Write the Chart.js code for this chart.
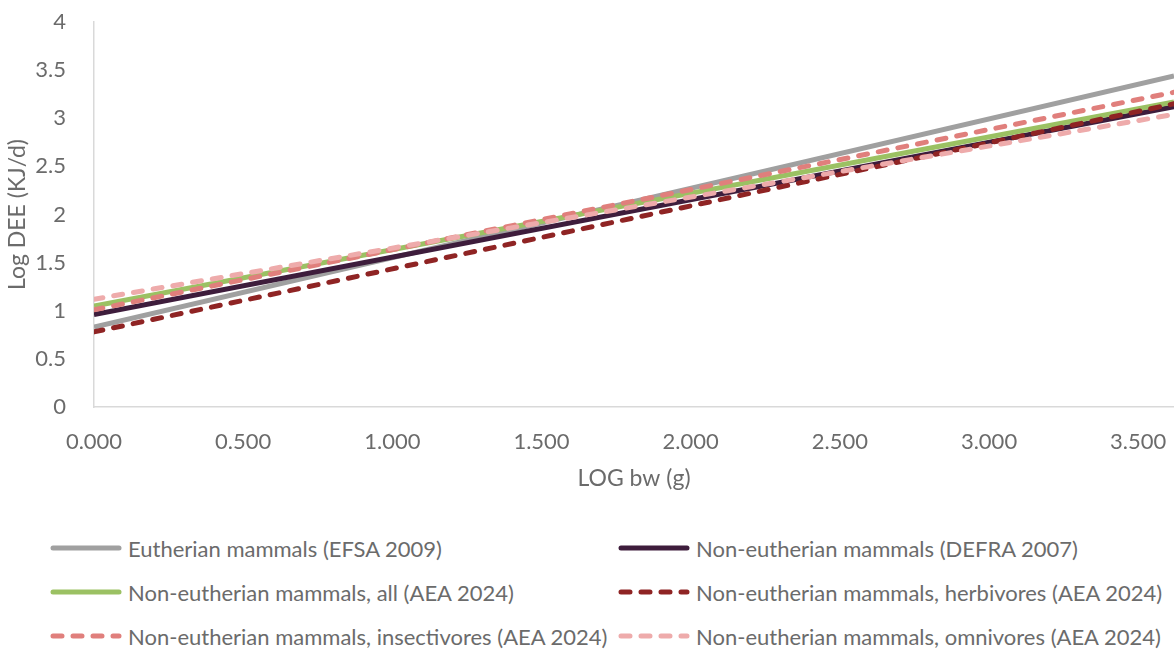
<!DOCTYPE html>
<html>
<head>
<meta charset="utf-8">
<script src="https://cdn.jsdelivr.net/npm/chart.js@4.4.1/dist/chart.umd.min.js"></script>
<style>
  html, body { margin: 0; padding: 0; background: #fff; }
  #wrap { position: relative; width: 1174px; height: 652px; overflow: hidden; font-family: Lato, "Noto Sans", sans-serif; color: #6b6b6b; }
  #chart { position: absolute; left: 0; top: 0; }
  .item { position: absolute; height: 26px; display: flex; align-items: center; font-size: 22px; white-space: nowrap; }
  .item svg { margin-right: 6px; }
</style>
</head>
<body>
<div id="wrap">
  <canvas id="chart" width="1174" height="500"></canvas>
  <div id="legend"></div>
</div>
<script>
// endpoints of each fitted line
const xValues = [0, 3.62];
const eutherian = [0.83, 3.44];
const defra = [0.96, 3.12];
const neAll = [1.05, 3.17];
const herbivores = [0.78, 3.15];
const insectivores = [1.01, 3.27];
const omnivores = [1.12, 3.04];

const labels = [
  "Eutherian mammals (EFSA 2009)",
  "Non-eutherian mammals (DEFRA 2007)",
  "Non-eutherian mammals, all (AEA 2024)",
  "Non-eutherian mammals, herbivores (AEA 2024)",
  "Non-eutherian mammals, insectivores (AEA 2024)",
  "Non-eutherian mammals, omnivores (AEA 2024)",
];
const series = [eutherian, defra, neAll, herbivores, insectivores, omnivores];
const colors = ["#a0a0a0", "#3e1d3c", "#9bc163", "#8f2424", "#e07f7c", "#eeabab"];
const dashed = [false, false, false, true, true, true];

const TEXT = "#6b6b6b";
const FONT = "Lato, 'Noto Sans', sans-serif";

const datasets = series.map((vals, i) => ({
  label: labels[i],
  data: xValues.map((x, j) => ({ x: x, y: vals[j] })),
  borderColor: colors[i],
  backgroundColor: colors[i],
  borderWidth: 5,
  borderDash: dashed[i] ? [9, 11] : [],
  borderCapStyle: dashed[i] ? "round" : "butt",
  showLine: true,
  pointRadius: 0,
  order: 5 - i,
}));

new Chart(document.getElementById("chart"), {
  type: "scatter",
  data: { datasets: datasets },
  options: {
    responsive: false,
    animation: false,
    layout: { padding: { top: 22, left: 0, right: 0, bottom: 0 } },
    plugins: { legend: { display: false }, tooltip: { enabled: false } },
    scales: {
      x: {
        type: "linear",
        min: 0,
        max: 3.62,
        grid: { display: false },
        border: { color: "#d9d9d9", width: 1.5 },
        ticks: {
          stepSize: 0.5,
          includeBounds: false,
          padding: 14,
          color: TEXT,
          font: { family: FONT, size: 22 },
          callback: (v) => v.toFixed(3),
        },
        title: {
          display: true,
          text: "LOG bw (g)",
          color: TEXT,
          font: { family: FONT, size: 23 },
          padding: { top: 4, bottom: 8 },
        },
        afterFit: (s) => {
          s.height = 93;
          s.paddingLeft = 0;
          s.paddingRight = 0;
        },
      },
      y: {
        min: 0,
        max: 4,
        grid: { display: false },
        border: { color: "#d9d9d9", width: 1.5 },
        ticks: {
          stepSize: 0.5,
          padding: 20,
          color: TEXT,
          font: { family: FONT, size: 22 },
          callback: (v) => String(v),
        },
        title: {
          display: true,
          text: "Log DEE (KJ/d)",
          color: TEXT,
          font: { family: FONT, size: 23 },
          padding: { top: 4, bottom: 0 },
        },
        afterFit: (s) => {
          s.width = 94;
          s.paddingTop = 0;
          s.paddingBottom = 0;
        },
      },
    },
  },
});

// two-column legend under the plot
const legendPos = [
  { x: 50, y: 548 }, { x: 618, y: 548 },
  { x: 50, y: 592 }, { x: 618, y: 592 },
  { x: 50, y: 636 }, { x: 618, y: 636 },
];
const legend = document.getElementById("legend");
labels.forEach((label, i) => {
  const p = legendPos[i];
  const div = document.createElement("div");
  div.className = "item";
  div.style.left = p.x + "px";
  div.style.top = (p.y - 13) + "px";
  const dash = dashed[i] ? 'stroke-dasharray="9 11" stroke-linecap="round"' : 'stroke-linecap="round"';
  div.innerHTML =
    '<svg width="72" height="10"><line x1="3" y1="5" x2="69" y2="5" stroke="' + colors[i] +
    '" stroke-width="5" ' + dash + '/></svg><span>' + label + "</span>";
  legend.appendChild(div);
});
</script>
</body>
</html>
